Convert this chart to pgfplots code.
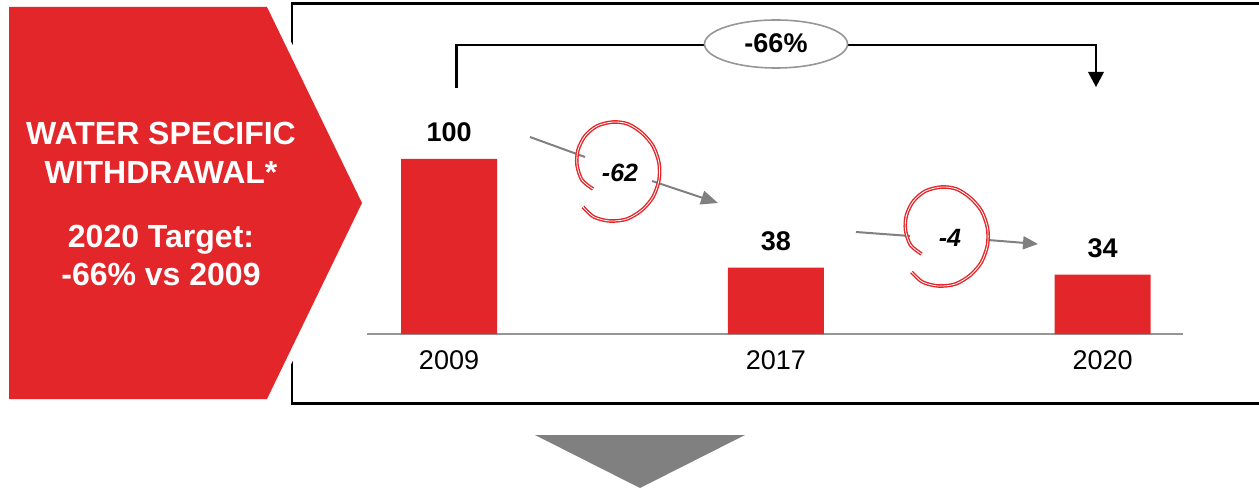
\documentclass[border=0pt]{standalone}
\usepackage{pgfplots}
\pgfplotsset{compat=1.18}
\usepackage{fontspec}
\setmainfont{Liberation Sans}
\usetikzlibrary{arrows.meta}
\definecolor{wred}{RGB}{227,38,41}
\definecolor{agray}{RGB}{128,128,128}
\definecolor{lgray}{RGB}{150,150,150}
\newcommand{\sz}[1]{\fontsize{#1}{#1}\selectfont}
\begin{document}
\begin{tikzpicture}
% page in pixel units, y downwards
\begin{scope}[x=0.5pt,y=-0.5pt,yshift=244pt]
\useasboundingbox (0,0) rectangle (1259,488);
% frame
\draw[black,line width=1.2pt] (1265,3.5) -- (292,3.5) -- (292,403.5) -- (1265,403.5);
% red pentagon
\draw[white,line width=6.5pt,line join=miter] (9,7) -- (267,7) -- (362,203) -- (267,399) -- (9,399) -- cycle;
\fill[wred] (9,7) -- (267,7) -- (362,203) -- (267,399) -- (9,399) -- cycle;
\node[anchor=base,text=white,font=\sz{16}\bfseries,inner sep=0pt] at (161,145) {WATER SPECIFIC};
\node[anchor=base,text=white,font=\sz{16}\bfseries,inner sep=0pt] at (161,184) {WITHDRAWAL*};
\node[anchor=base,text=white,font=\sz{16}\bfseries,inner sep=0pt] at (161,248) {2020 Target:};
\node[anchor=base,text=white,font=\sz{16}\bfseries,inner sep=0pt] at (161,286) {-66\% vs 2009};
\end{scope}

\begin{axis}[
  at={(183.5pt,77pt)}, anchor=south west,
  scale only axis, width=408pt, height=87.5pt,
  xmin=-0.251, xmax=2.246, ymin=0, ymax=100,
  axis x line=bottom, axis y line=none,
  x axis line style={draw=lgray,line width=1pt,-},
  xtick={0,1,2}, xticklabels={2009,2017,2020},
  major tick length=0pt, ytick=\empty,
  xticklabel style={font=\sz{13.5},anchor=base,yshift=-17.5pt,inner sep=0pt},
  clip=false,
  ybar, bar width=48pt,
  nodes near coords,
  every node near coord/.append style={font=\sz{13.5}\bfseries,anchor=base,yshift=8.5pt,inner sep=0pt,text=black},
  /pgf/number format/assume math mode=true,
]
\addplot[fill=wred,draw=none] coordinates {(0,100) (1,38) (2,34)};
\end{axis}

\begin{scope}[x=0.5pt,y=-0.5pt,yshift=244pt]
% bracket -66%
\draw[black,line width=1.3pt,line join=miter] (456.5,88) |- (1096,45) -- (1096,73);
\fill[black] (1088,72) -- (1104,72) -- (1096,87) -- cycle;
\draw[lgray,fill=white,line width=0.8pt] (776,44) ellipse [x radius=71.5, y radius=24];
\node[anchor=base,font=\sz{13.5}\bfseries,inner sep=0pt] at (776,53) {-66\%};
% step arrows
\draw[agray,line width=1pt] (530,137) -- (585,157);
\draw[agray,line width=1pt,-{Triangle[length=8.5pt,width=7pt]}] (652,181) -- (718,203);
\draw[agray,line width=1pt] (856,232) -- (910,236);
\draw[agray,line width=1pt,-{Triangle[length=7.5pt,width=6.5pt]}] (988,240) -- (1038,244);
% hand-drawn circles
\foreach \dx/\dy in {0/0, 328.5/65} {
  \draw[wred,line width=0.7pt,double=white,double distance=0.4pt,xshift=\dx*0.5pt,yshift=-\dy*0.5pt]
    plot[smooth] coordinates {(593,189) (582,180) (577,165) (578,150) (585,136) (597,126) (613,122) (628,124) (642,133) (653,146) (659,163) (659,180) (653,197) (642,210) (627,219) (610,221) (594,217) (583,207)};
}
\node[anchor=base,font=\sz{12.5}\bfseries\itshape,inner sep=0pt] at (620,181.5) {-62};
\node[anchor=base,font=\sz{12.5}\bfseries\itshape,inner sep=0pt] at (950,246.5) {-4};
% bottom triangle
\fill[agray] (535,435) -- (745,435) -- (640,488) -- cycle;
\end{scope}
\end{tikzpicture}
\end{document}
